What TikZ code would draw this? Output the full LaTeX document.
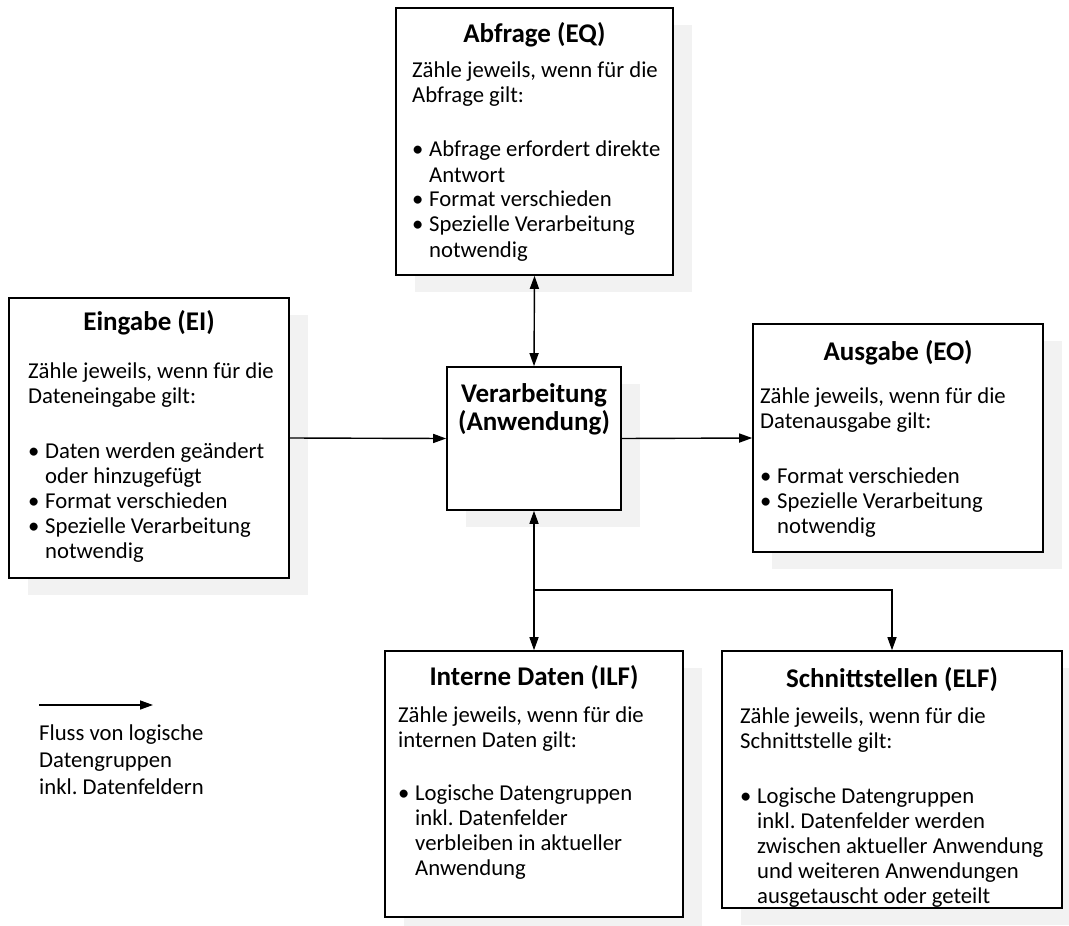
\documentclass[tikz,border=0pt]{standalone}
\usepackage{fontspec}
\setmainfont{Carlito}
\usetikzlibrary{arrows.meta,shadows}
\definecolor{shade}{RGB}{242,242,242}
\frenchspacing

% bullet with hanging indent for the item lists
\newcommand\bul{\makebox[17pt][l]{\textbullet}}
\newcommand\bulind{\hspace*{17pt}}
% body text block, first baseline at the node's base
\newcommand\txt[1]{\parbox[t]{360pt}{\fontsize{22.7}{25}\selectfont\raggedright #1}}

\tikzset{
  box/.style={draw, line width=1.6pt, fill=white, inner sep=0pt, rectangle,
    drop shadow={shadow xshift=19pt, shadow yshift=-17pt, fill=shade, opacity=1}},
  head/.style={font=\fontsize{27}{28}\selectfont\bfseries, anchor=base, inner sep=0pt, align=center},
  body/.style={anchor=base west, inner sep=0pt},
  arr/.style={line width=1.4pt, -{Triangle[length=13pt,width=9pt]}},
  biarr/.style={line width=1.4pt, {Triangle[length=13pt,width=9pt]}-{Triangle[length=13pt,width=9pt]}},
}

\begin{document}
\begin{tikzpicture}[x=1pt,y=-1pt]
\useasboundingbox (0,0) rectangle (1069,926);

% boxes
\node[box, minimum width=277pt, minimum height=267pt] (abf) at (534.5,141.5) {};
\node[box, minimum width=280pt, minimum height=280pt] (ein) at (149,438) {};
\node[box, minimum width=174pt, minimum height=143pt] (ver) at (534,438.5) {};
\node[box, minimum width=290pt, minimum height=228pt] (aus) at (898,438) {};
\node[box, minimum width=298pt, minimum height=266pt] (ilf) at (534,784) {};
\node[box, minimum width=340pt, minimum height=257pt] (elf) at (892,779.5) {};

% headings
\node[head] (abfT) at (534.5,42) {Abfrage (EQ)};
\node[head] (einT) at (149,330) {Eingabe (EI)};
\node[head] (verT) at (534,402) {\parbox[t]{174pt}{\centering Verarbeitung\\(Anwendung)}};
\node[head] (ausT) at (898,360) {Ausgabe (EO)};
\node[head] (ilfT) at (534,685) {Interne Daten (ILF)};
\node[head] (elfT) at (892,687) {Schnittstellen (ELF)};

% descriptions
\node[body] (abfB) at (412,77) {\txt{Zähle jeweils, wenn für die\\
  Abfrage gilt:\\[30pt]
  \bul Abfrage erfordert direkte\\
  \bulind Antwort\\
  \bul Format verschieden\\
  \bul Spezielle Verarbeitung\\
  \bulind notwendig}};
\node[body] (einB) at (28,378) {\txt{Zähle jeweils, wenn für die\\
  Dateneingabe gilt:\\[30pt]
  \bul Daten werden geändert\\
  \bulind oder hinzugefügt\\
  \bul Format verschieden\\
  \bul Spezielle Verarbeitung\\
  \bulind notwendig}};
\node[body] (ausB) at (760,403) {\txt{Zähle jeweils, wenn für die\\
  Datenausgabe gilt:\\[30pt]
  \bul Format verschieden\\
  \bul Spezielle Verarbeitung\\
  \bulind notwendig}};
\node[body] (ilfB) at (398,722) {\txt{Zähle jeweils, wenn für die\\
  internen Daten gilt:\\[28pt]
  \bul Logische Datengruppen\\
  \bulind inkl. Datenfelder\\
  \bulind verbleiben in aktueller\\
  \bulind Anwendung}};
\node[body] (elfB) at (740,723) {\txt{Zähle jeweils, wenn für die\\
  Schnittstelle gilt:\\[30pt]
  \bul Logische Datengruppen\\
  \bulind inkl. Datenfelder werden\\
  \bulind zwischen aktueller Anwendung\\
  \bulind und weiteren Anwendungen\\
  \bulind ausgetauscht oder geteilt}};

% connectors
\draw[biarr] (abf.south) -- (ver.north);
\draw[arr] (ein.east) -- (ver.west);
\draw[arr] (ver.east) -- (aus.west);
\coordinate (j) at (534,590);
\draw[arr] (j) -- (ver.south);
\draw[arr] (j) -- (ilf.north);
\draw[arr] (j) -| (elf.north);

% legend
\coordinate (l1) at (39,705);
\coordinate (l2) at (153,705);
\draw[arr] (l1) -- (l2);
\node[body] (legT) at (39,740) {\parbox[t]{220pt}{\fontsize{22.7}{27}\selectfont\raggedright
  Fluss von logische\\Datengruppen\\inkl. Datenfeldern}};
\end{tikzpicture}
\end{document}
